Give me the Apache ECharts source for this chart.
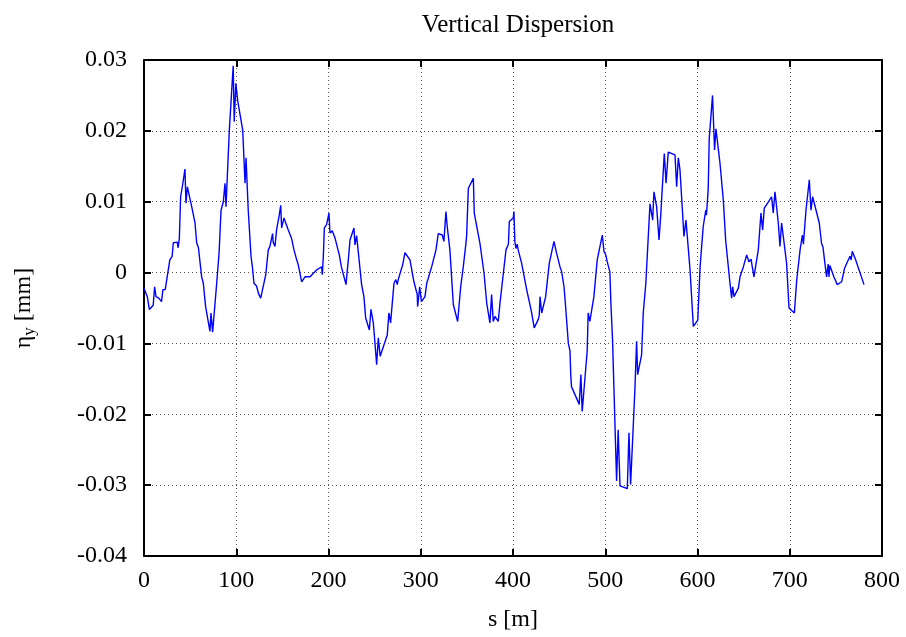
<!DOCTYPE html>
<html>
<head>
<meta charset="utf-8">
<script src="https://cdn.jsdelivr.net/npm/echarts@6/dist/echarts.min.js"></script>
<style>
  html, body { margin: 0; padding: 0; background: #fff; }
  #chart { width: 906px; height: 637px; }
</style>
</head>
<body>
<div id="chart"></div>
<script>
// s [m] positions along the ring
const sPos = [
  0, 3.6, 5.8, 10, 11.5, 13, 16, 19, 20.5, 23, 28, 30.5, 31.8, 36, 37, 38.3, 39.7, 42, 44.4, 45.5,
  47, 51.7, 55.3, 57.1, 59, 62.5, 64.3, 66.8, 71.5, 72.6, 74.4, 78.8, 81.4, 83.5, 86, 87.8, 88.9, 90.3, 92.5, 96.7,
  97.8, 99.6, 101.5, 107, 109.5, 110.6, 113, 116, 117.5, 119.2, 122, 124, 126.5, 132, 134.7, 136.5, 139.4, 140, 142, 143.7,
  146.6, 148.2, 149.2, 151.7, 156.4, 160, 162.6, 165.5, 167, 168.6, 170.9, 174.5, 180, 187.3, 192.6, 193.3, 194.4, 195.5, 198, 200.5,
  201.6, 204, 207, 211.7, 214, 219, 219.7, 221.5, 223.3, 227.6, 228.7, 230.5, 235.9, 238.4, 240.3, 244.3, 246, 248.6, 250.4, 252.2,
  254, 256, 263.7, 265.5, 267.3, 271, 273, 274.5, 275.6, 280.4, 282.9, 288.3, 292.6, 296.2, 296.6, 298.9, 300.7, 304.6, 306.5, 311.8,
  316.5, 319, 323.3, 325.1, 327.3, 328.7, 331.6, 335.3, 340, 343.3, 346.1, 348.6, 349.7, 351.6, 357, 358, 359.5, 364.2, 368.6, 371.5,
  375, 376.8, 378.6, 380.4, 384, 385.9, 388, 392.4, 395, 396, 400.3, 401, 402, 403.2, 404.6, 405.6, 409.4, 414.8, 420, 421.5,
  423, 425.6, 427.4, 428.5, 429.3, 431.1, 435.4, 439.3, 444.4, 447.3, 448.5, 451, 452.8, 455.3, 456.5, 460, 461.8, 462.6, 463.4, 471.8,
  473.6, 475, 480.4, 481.5, 483.3, 487.7, 491.3, 496.8, 498.6, 500.8, 502.2, 505, 506.1, 507.9, 512.3, 514, 516, 523.9, 525.7, 527.5,
  532.2, 534, 535.1, 539.4, 541.2, 544, 548.5, 551.4, 552.8, 555.7, 558.3, 560.1, 564, 565.9, 568.3, 575.6, 577.4, 579.2, 581, 583.8,
  585.3, 587.5, 591.9, 595.5, 600.3, 602.8, 606.2, 609, 609.7, 611.6, 612.7, 616.3, 618.5, 620, 624.4, 628, 630.5, 635.2, 637, 638.1,
  639.6, 644.3, 646.1, 649.7, 653.3, 655.8, 658, 661.2, 663.4, 665.9, 668.8, 670.6, 672.4, 676, 680.3, 682.1, 684, 687.6, 689.4, 691.2,
  696.6, 699.2, 705, 707.6, 711.2, 713.7, 714.8, 717.6, 721.2, 723, 724.8, 732, 734.5, 736, 739.9, 741.7, 742.5, 743.5, 747.8, 751.5,
  756.2, 759.4, 765.3, 766.5, 767.8, 771.4, 780.5
];
// eta_y [mm]
const etaY = [
  -0.0022, -0.0034, -0.0052, -0.0046, -0.0020, -0.0034, -0.0036, -0.0041, -0.0024, -0.0024, 0.0018, 0.0023, 0.0042, 0.0043, 0.0035, 0.0048, 0.0107, 0.0125, 0.0146, 0.0098,
  0.0121, 0.0093, 0.0070, 0.0042, 0.0035, -0.0006, -0.0015, -0.0048, -0.0083, -0.0057, -0.0084, -0.0015, 0.0028, 0.0088, 0.0100, 0.0126, 0.0093, 0.0093, 0.0201, 0.0292,
  0.0213, 0.0267, 0.0243, 0.0201, 0.0126, 0.0162, 0.0088, 0.0023, 0.0008, -0.0015, -0.0019, -0.0029, -0.0036, -0.0003, 0.0032, 0.0037, 0.0055, 0.0043, 0.0037, 0.0060,
  0.0081, 0.0095, 0.0063, 0.0077, 0.0060, 0.0048, 0.0032, 0.0018, 0.0012, 0.0002, -0.0013, -0.0006, -0.0006, 0.0004, 0.0008, -0.0003, 0.0023, 0.0063, 0.0068, 0.0084,
  0.0056, 0.0059, 0.0049, 0.0025, 0.0008, -0.0017, -0.0006, 0.0018, 0.0046, 0.0063, 0.0039, 0.0052, -0.0017, -0.0034, -0.0064, -0.0081, -0.0052, -0.0071, -0.0100, -0.0130,
  -0.0092, -0.0118, -0.0088, -0.0057, -0.0071, -0.0015, -0.0010, -0.0017, -0.0010, 0.0011, 0.0028, 0.0018, -0.0013, -0.0031, -0.0048, -0.0020, -0.0041, -0.0034, -0.0015, 0.0008,
  0.0032, 0.0055, 0.0053, 0.0044, 0.0086, 0.0065, 0.0032, -0.0045, -0.0069, -0.0020, 0.0008, 0.0037, 0.0051, 0.0119, 0.0133, 0.0084, 0.0086, 0.0041, -0.0001, -0.0043,
  -0.0071, -0.0031, -0.0069, -0.0062, -0.0069, -0.0043, -0.0045, 0.0032, 0.0040, 0.0072, 0.0077, 0.0086, 0.0044, 0.0034, 0.0040, 0.0032, 0.0013, -0.0024, -0.0055, -0.0053,
  -0.0078, -0.0071, -0.0066, -0.0060, -0.0034, -0.0057, -0.0034, 0.0013, 0.0044, 0.0027, 0.0025, 0.0008, 0.0001, -0.0020, -0.0039, -0.0100, -0.0111, -0.0144, -0.0161, -0.0186,
  -0.0144, -0.0196, -0.0111, -0.0057, -0.0069, -0.0034, 0.0018, 0.0053, 0.0030, 0.0024, 0.0015, 0.0001, -0.0043, -0.0095, -0.0294, -0.0222, -0.0301, -0.0305, -0.0226, -0.0299,
  -0.0163, -0.0097, -0.0144, -0.0116, -0.0057, -0.0015, 0.0097, 0.0074, 0.0114, 0.0093, 0.0046, 0.0080, 0.0168, 0.0126, 0.0170, 0.0166, 0.0121, 0.0162, 0.0145, 0.0084,
  0.0051, 0.0074, 0.0004, -0.0076, -0.0067, 0.0008, 0.0065, 0.0088, 0.0081, 0.0117, 0.0189, 0.0250, 0.0173, 0.0203, 0.0154, 0.0102, 0.0046, -0.0015, -0.0036, -0.0020,
  -0.0034, -0.0022, -0.0006, 0.0008, 0.0025, 0.0015, 0.0019, -0.0006, 0.0012, 0.0032, 0.0084, 0.0060, 0.0091, 0.0098, 0.0107, 0.0084, 0.0114, 0.0070, 0.0037, 0.0070,
  0.0013, -0.0050, -0.0057, -0.0010, 0.0032, 0.0053, 0.0040, 0.0088, 0.0131, 0.0088, 0.0107, 0.0070, 0.0041, 0.0036, -0.0006, 0.0012, -0.0006, 0.0010, -0.0006, -0.0017,
  -0.0013, 0.0006, 0.0023, 0.0018, 0.0030, 0.0018, -0.0017
];

const xTicks = { min: 0, max: 800, interval: 100 };
const yTicks = { min: -0.04, max: 0.03, interval: 0.01 };

const font = "'Liberation Serif', 'DejaVu Serif', serif";

let chart = echarts.init(document.getElementById("chart"));

const frameLine = { show: true, onZero: false, lineStyle: { color: "#000", width: 2 } };
const innerTick = { show: true, inside: true, length: 7, lineStyle: { color: "#000", width: 2 } };
const dotted = { show: true, lineStyle: { color: "#555", width: 1, type: [1, 3] } };

let option = {
  animation: false,
  backgroundColor: "#fff",
  title: {
    text: "Vertical Dispersion",
    left: 513, top: 8, textAlign: "center",
    textStyle: { fontFamily: font, fontSize: 25, fontWeight: "normal", color: "#000" }
  },
  grid: { left: 144, right: 24, top: 60, bottom: 80 },
  xAxis: [
    {
      type: "value", min: xTicks.min, max: xTicks.max, interval: xTicks.interval,
      axisLine: frameLine, axisTick: innerTick, splitLine: dotted,
      axisLabel: { color: "#000", fontFamily: font, fontSize: 24, margin: 13 },
      name: "s [m]", nameLocation: "middle", nameGap: 52,
      nameTextStyle: { color: "#000", fontFamily: font, fontSize: 24 }
    },
    {
      type: "value", position: "top", min: xTicks.min, max: xTicks.max, interval: xTicks.interval,
      axisLine: frameLine, axisTick: innerTick, splitLine: { show: false },
      axisLabel: { show: false }
    }
  ],
  yAxis: [
    {
      type: "value", min: yTicks.min, max: yTicks.max, interval: yTicks.interval,
      axisLine: frameLine, axisTick: innerTick, splitLine: dotted,
      axisLabel: {
        color: "#000", fontFamily: font, fontSize: 24, margin: 17,
        formatter: function (v) { return Math.abs(v) < 1e-9 ? "0" : v.toFixed(2); }
      },
      name: "{a|η}{b|y}{a| [mm]}", nameLocation: "middle", nameGap: 106,
      nameTextStyle: {
        color: "#000", fontFamily: font, fontSize: 24,
        rich: {
          a: { fontFamily: font, fontSize: 24, color: "#000" },
          b: { fontFamily: font, fontSize: 17, color: "#000", padding: [12, 0, 0, 0] }
        }
      }
    },
    {
      type: "value", position: "right", min: yTicks.min, max: yTicks.max, interval: yTicks.interval,
      axisLine: frameLine, axisTick: innerTick, splitLine: { show: false },
      axisLabel: { show: false }
    }
  ],
  series: [
    {
      type: "line",
      data: sPos.map((s, i) => [s, etaY[i]]),
      showSymbol: false,
      lineStyle: { color: "#0000ff", width: 1.4 },
      itemStyle: { color: "#0000ff" }
    }
  ]
};
chart.setOption(option);
</script>
</body>
</html>
